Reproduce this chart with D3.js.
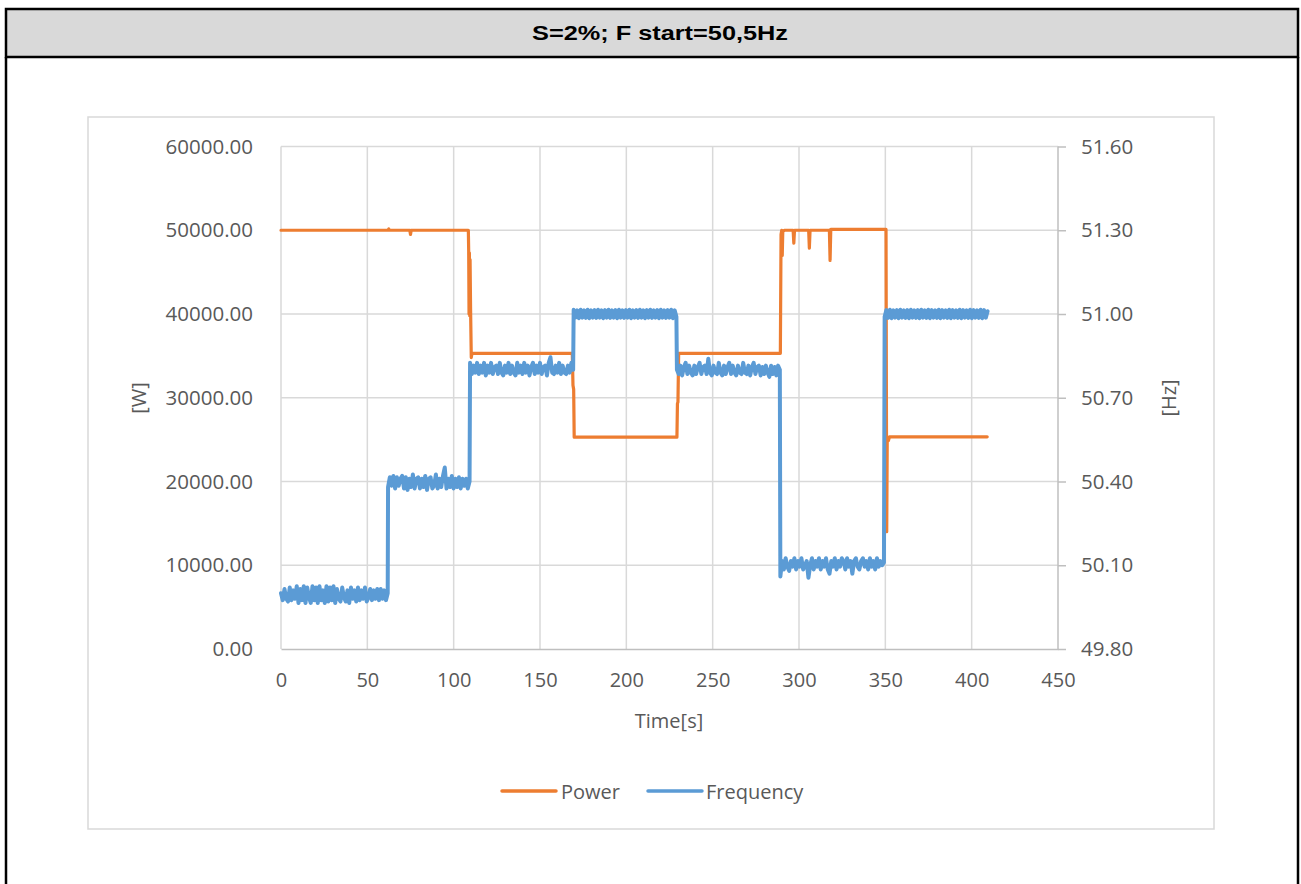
<!DOCTYPE html>
<html>
<head>
<meta charset="utf-8">
<script src="https://cdn.jsdelivr.net/npm/d3@7"></script>
<style>
  html, body { margin: 0; padding: 0; background: #fff; }
  svg { display: block; }
</style>
</head>
<body>
<svg id="chart" width="1301" height="884"></svg>
<script>
// ---------------- DATA ----------------
const titleText = "S=2%; F start=50,5Hz";
const xTicks = [0, 50, 100, 150, 200, 250, 300, 350, 400, 450];
const yLeftTicks = [0, 10000, 20000, 30000, 40000, 50000, 60000];
const yRightTicks = [49.8, 50.1, 50.4, 50.7, 51.0, 51.3, 51.6];
const seriesNames = ["Power", "Frequency"];

// Power [W] : time [s] and value
const powerTime  = [0, 62.0, 62.4, 62.8, 74.6, 75.0, 75.4, 108.5, 108.7, 108.9, 109.1, 109.3, 109.5, 109.8, 110.2, 110.6,
                    168.7, 168.9, 169.1, 169.5, 169.8, 229.3, 229.6, 229.9, 230.3,
                    289.2, 289.6, 290.0, 290.3, 290.6, 291.5, 296.6, 297.0, 297.4, 305.6, 306.0, 306.4, 317.6, 318.0, 318.4,
                    350.4, 350.8, 351.1, 351.8, 352.4, 409.0];
const powerValue = [50000, 50000, 50150, 50000, 50000, 49500, 50000, 50000, 47500, 40000, 47300, 39800, 46500, 40500, 34800, 35300,
                    35300, 33500, 31500, 31000, 25300, 25300, 29300, 29500, 35300,
                    35300, 49500, 50000, 47000, 49800, 50000, 50000, 48450, 50000, 50000, 47850, 50000, 50000, 46400, 50100,
                    50100, 14000, 25000, 24900, 25330, 25330];

// Frequency [Hz] : segments (start time, end time, sampled values ~1 s apart)
const freqSeg1Span = [0, 61.8];
const freqSeg1 = [50.00,49.975,50.015,49.98,49.97,50.02,49.975,50.01,49.98,50.025,49.965,50.015,49.975,50.025,49.965,50.02,49.985,49.965,50.025,49.975,50.02,49.965,50.025,49.975,50.01,49.965,50.025,49.97,50.02,49.975,50.025,49.965,50.015,49.98,49.97,50.02,49.985,49.97,50.01,49.965,50.02,49.98,50.01,49.97,50.02,49.975,50.01,49.98,50.02,49.97,49.985,50.015,49.975,50.01,49.98,50.015,49.975,50.015,49.98,50.01,49.975,50.00];
const freqSeg2Span = [62.0, 109.2];
const freqSeg2 = [50.38,50.415,50.385,50.42,50.375,50.415,50.385,50.41,50.42,50.375,50.415,50.37,50.41,50.38,50.425,50.375,50.41,50.415,50.375,50.41,50.38,50.42,50.37,50.41,50.415,50.375,50.385,50.425,50.375,50.41,50.38,50.42,50.45,50.375,50.41,50.38,50.42,50.375,50.41,50.38,50.415,50.375,50.41,50.385,50.41,50.375,50.40];
const freqSeg3Span = [109.5, 169.2];
const freqSeg3 = [50.825,50.785,50.815,50.79,50.825,50.785,50.815,50.79,50.825,50.78,50.815,50.79,50.825,50.785,50.81,50.815,50.785,50.825,50.79,50.78,50.815,50.79,50.825,50.785,50.815,50.79,50.78,50.825,50.79,50.815,50.785,50.825,50.79,50.815,50.78,50.81,50.825,50.785,50.815,50.79,50.825,50.785,50.81,50.815,50.78,50.825,50.845,50.79,50.785,50.815,50.79,50.825,50.785,50.815,50.79,50.785,50.815,50.79,50.825,50.80];
const freqSeg4Span = [169.5, 229.0];
const freqSeg4 = [51.015,50.987,51.013,50.985,51.015,50.987,51.013,50.986,51.015,50.985,51.013,50.987,51.014,50.986,51.015,50.987,51.013,50.985,51.014,50.987,51.015,50.986,51.013,50.987,51.014,50.985,51.015,50.987,51.013,50.986,51.014,50.987,51.015,50.985,51.013,50.987,51.014,50.986,51.015,50.987,51.013,50.985,51.014,50.987,51.015,50.986,51.013,50.987,51.014,50.985,51.015,50.987,51.013,50.986,51.014,50.987,51.015,50.985,51.013,50.99];
const freqSeg5Span = [229.3, 288.9];
const freqSeg5 = [50.80,50.785,50.815,50.78,50.81,50.825,50.785,50.815,50.79,50.78,50.815,50.785,50.81,50.825,50.785,50.81,50.815,50.785,50.84,50.79,50.78,50.815,50.79,50.785,50.825,50.79,50.78,50.815,50.785,50.81,50.825,50.785,50.815,50.79,50.78,50.815,50.79,50.785,50.825,50.79,50.785,50.815,50.78,50.81,50.825,50.785,50.81,50.815,50.78,50.81,50.785,50.815,50.79,50.775,50.815,50.785,50.81,50.78,50.815,50.80];
const freqSeg6Span = [289.2, 349.2];
const freqSeg6 = [50.06,50.115,50.085,50.125,50.095,50.08,50.115,50.095,50.125,50.085,50.115,50.095,50.125,50.085,50.10,50.115,50.055,50.10,50.125,50.085,50.115,50.095,50.125,50.085,50.115,50.095,50.125,50.085,50.07,50.115,50.095,50.125,50.085,50.115,50.095,50.125,50.115,50.085,50.125,50.095,50.115,50.07,50.115,50.125,50.095,50.085,50.115,50.125,50.095,50.115,50.085,50.125,50.095,50.115,50.085,50.125,50.095,50.115,50.10,50.11];
const freqSeg7Span = [349.6, 409.2];
const freqSeg7 = [50.99,51.014,50.986,51.015,50.985,51.013,50.987,51.014,50.985,51.015,50.987,51.013,50.986,51.014,50.985,51.015,50.987,51.013,50.986,51.014,50.985,51.015,50.987,51.013,50.986,51.015,50.985,51.014,50.987,51.013,50.986,51.015,50.985,51.014,50.987,51.013,50.986,51.015,50.985,51.014,50.987,51.013,50.986,51.015,50.985,51.014,50.987,51.013,50.986,51.015,50.985,51.014,50.987,51.013,50.986,51.015,50.985,51.014,50.987,51.01];

// ---------------- BUILD ----------------
const powerData = powerTime.map((t, i) => ({ t, v: powerValue[i] }));
const segs = [
  [freqSeg1Span, freqSeg1], [freqSeg2Span, freqSeg2], [freqSeg3Span, freqSeg3], [freqSeg4Span, freqSeg4],
  [freqSeg5Span, freqSeg5], [freqSeg6Span, freqSeg6], [freqSeg7Span, freqSeg7]
];
const freqData = [];
segs.forEach(([span, vals]) => {
  const n = vals.length;
  vals.forEach((v, i) => freqData.push({ t: span[0] + (span[1] - span[0]) * i / (n - 1), v }));
});

const svg = d3.select("#chart");
const W = 1301, H = 884;
const font = "'Open Sans', 'DejaVu Sans', sans-serif";
const txtColor = "#595959";
const gridColor = "#d9d9d9";
const axisColor = "#bfbfbf";
const cPower = "#ED7D31", cFreq = "#5B9BD5";

svg.append("rect").attr("width", W).attr("height", H).attr("fill", "#fff");

// outer frame and title bar
svg.append("rect").attr("x", 6).attr("y", 9).attr("width", 1292).attr("height", 48)
  .attr("fill", "#d9d9d9").attr("stroke", "#000").attr("stroke-width", 2.5);
svg.append("line").attr("x1", 6).attr("x2", 6).attr("y1", 57).attr("y2", H + 5).attr("stroke", "#000").attr("stroke-width", 2.5);
svg.append("line").attr("x1", 1298).attr("x2", 1298).attr("y1", 57).attr("y2", H + 5).attr("stroke", "#000").attr("stroke-width", 2.5);
svg.append("text").attr("x", 660).attr("y", 33).attr("text-anchor", "middle").attr("dominant-baseline", "central")
  .attr("font-family", "'Liberation Sans', Arial, sans-serif").attr("font-weight", "bold").attr("font-size", 20)
  .attr("textLength", 256).attr("lengthAdjust", "spacingAndGlyphs")
  .attr("fill", "#000").text(titleText);

// chart area box
svg.append("rect").attr("x", 88).attr("y", 117).attr("width", 1126).attr("height", 712)
  .attr("fill", "#fff").attr("stroke", gridColor).attr("stroke-width", 1.5);

const x = d3.scaleLinear().domain([0, 450]).range([281, 1058]);
const yL = d3.scaleLinear().domain([0, 60000]).range([649, 146.5]);
const yR = d3.scaleLinear().domain([49.8, 51.6]).range([649, 146.5]);

// gridlines
const g = svg.append("g");
g.selectAll(".hg").data(yLeftTicks.slice(1)).join("line")
  .attr("x1", x(0)).attr("x2", x(450)).attr("y1", d => yL(d)).attr("y2", d => yL(d))
  .attr("stroke", gridColor).attr("stroke-width", 1.5);
g.selectAll(".vg").data(xTicks.slice(0, -1)).join("line")
  .attr("x1", d => x(d)).attr("x2", d => x(d)).attr("y1", yL(60000)).attr("y2", yL(0))
  .attr("stroke", gridColor).attr("stroke-width", 1.5);

// bottom axis
const xAxis = d3.axisBottom(x).tickValues(xTicks).tickSize(0).tickPadding(24).tickFormat(d3.format("d"));
const gx = svg.append("g").attr("transform", `translate(0,${yL(0)})`).call(xAxis);
gx.select(".domain").attr("stroke", axisColor).attr("stroke-width", 1.5);
gx.selectAll("text").attr("font-family", font).attr("font-size", 20).attr("fill", txtColor);

// left axis
const yAxisL = d3.axisLeft(yL).tickValues(yLeftTicks).tickSize(0).tickPadding(28).tickFormat(d3.format(".2f"));
const gyl = svg.append("g").attr("transform", `translate(${x(0)},0)`).call(yAxisL);
gyl.select(".domain").remove();
gyl.selectAll("text").attr("font-family", font).attr("font-size", 20.5).attr("fill", txtColor);

// right axis
const yAxisR = d3.axisRight(yR).tickValues(yRightTicks).tickSize(8).tickPadding(15).tickFormat(d3.format(".2f"));
const gyr = svg.append("g").attr("transform", `translate(${x(450)},0)`).call(yAxisR);
gyr.select(".domain").attr("stroke", axisColor).attr("stroke-width", 1.5).attr("d", `M0,${yR(51.6)}V${yR(49.8)}`);
gyr.selectAll(".tick line").attr("stroke", axisColor).attr("stroke-width", 1.5);
gyr.selectAll("text").attr("font-family", font).attr("font-size", 20.5).attr("fill", txtColor);

// axis titles
svg.append("text").attr("x", 669).attr("y", 720).attr("text-anchor", "middle").attr("dominant-baseline", "central")
  .attr("font-family", font).attr("font-size", 20).attr("fill", txtColor).text("Time[s]");
svg.append("text").attr("transform", "translate(138,398) rotate(-90)").attr("text-anchor", "middle").attr("dominant-baseline", "central")
  .attr("font-family", font).attr("font-size", 20).attr("fill", txtColor).text("[W]");
svg.append("text").attr("transform", "translate(1168,398) rotate(-90)").attr("text-anchor", "middle").attr("dominant-baseline", "central")
  .attr("font-family", font).attr("font-size", 20).attr("fill", txtColor).text("[Hz]");

// series
const linePower = d3.line().x(d => x(d.t)).y(d => yL(d.v));
const lineFreq = d3.line().x(d => x(d.t)).y(d => yR(d.v));
svg.append("path").datum(powerData).attr("d", linePower).attr("fill", "none")
  .attr("stroke", cPower).attr("stroke-width", 3.2).attr("stroke-linejoin", "round").attr("stroke-linecap", "round");
svg.append("path").datum(freqData).attr("d", lineFreq).attr("fill", "none")
  .attr("stroke", cFreq).attr("stroke-width", 4).attr("stroke-linejoin", "round").attr("stroke-linecap", "round");

// legend
const legend = [
  { name: seriesNames[0], color: cPower, x0: 502, x1: 556, tx: 561 },
  { name: seriesNames[1], color: cFreq, x0: 648, x1: 702, tx: 706 }
];
const lg = svg.append("g");
legend.forEach(l => {
  lg.append("line").attr("x1", l.x0).attr("x2", l.x1).attr("y1", 791).attr("y2", 791)
    .attr("stroke", l.color).attr("stroke-width", 3.5).attr("stroke-linecap", "round");
  lg.append("text").attr("x", l.tx).attr("y", 791).attr("dominant-baseline", "central")
    .attr("font-family", font).attr("font-size", 20).attr("fill", txtColor).text(l.name);
});
</script>
</body>
</html>
